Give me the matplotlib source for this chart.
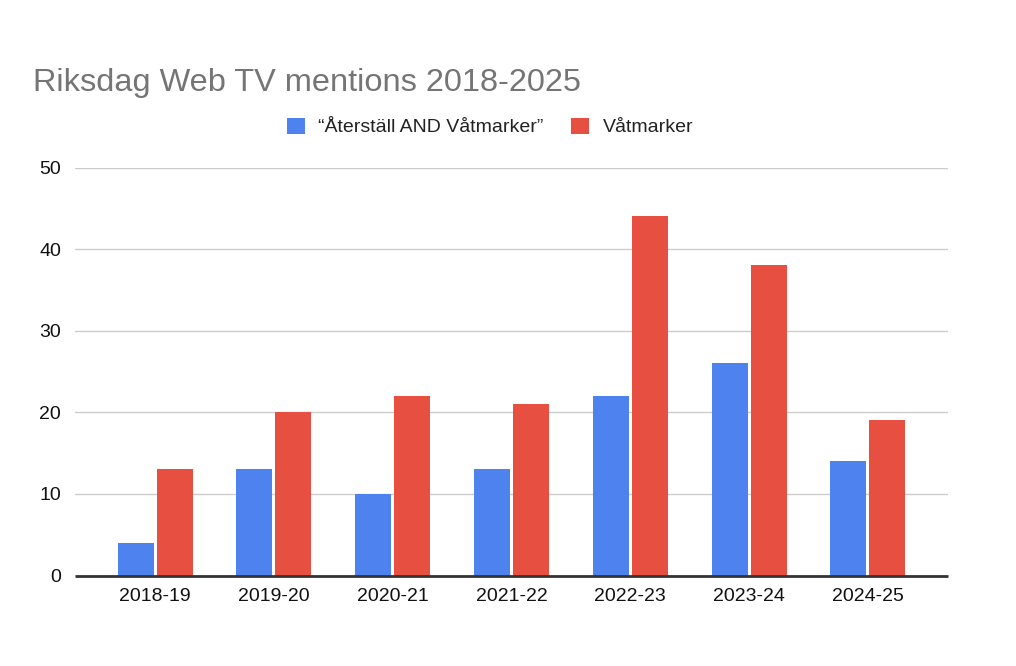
import matplotlib
matplotlib.use("Agg")
import matplotlib.pyplot as plt
import numpy as np

categories = ["2018-19", "2019-20", "2020-21", "2021-22", "2022-23", "2023-24", "2024-25"]
aterstall_vatmarker = [4, 13, 10, 13, 22, 26, 14]
vatmarker = [13, 20, 22, 21, 44, 38, 19]
series_names = ["\u201cÅterställ AND Våtmarker\u201d", "Våtmarker"]
yticks = [0, 10, 20, 30, 40, 50]

plt.rcParams['font.family'] = ['Liberation Sans', 'DejaVu Sans']

fig = plt.figure(figsize=(10.16, 6.66), dpi=100)
ax = fig.add_axes([75/1016, 1-575.5/666, (948-75)/1016, (575.5-167.5)/666])

x = np.arange(len(categories))
w = 0.303
off = 0.164
ax.bar(x - off, aterstall_vatmarker, w, color="#4E82EE", label=series_names[0], zorder=3)
ax.bar(x + off, vatmarker, w, color="#E74F40", label=series_names[1], zorder=3)

ax.set_xlim(-0.675, len(categories) - 1 + 0.675)
ax.set_ylim(0, 50)
ax.set_yticks(yticks)
ax.set_xticks(x)
ax.set_xticklabels(categories)
ax.tick_params(axis='both', length=0, labelsize=14, colors="#111111")
ax.tick_params(axis='y', pad=10)
ax.tick_params(axis='x', pad=9)
ax.yaxis.grid(True, color="#cccccc", linewidth=1, zorder=0)
for s in ["top", "right", "left"]:
    ax.spines[s].set_visible(False)
ax.spines["bottom"].set_color("#333333")
ax.spines["bottom"].set_linewidth(2)
ax.spines["bottom"].set_capstyle("butt")
ax.spines["bottom"].set_zorder(4)

fig.text(33/1016, 1-91/666, "Riksdag Web TV mentions 2018-2025", fontsize=23.4,
         color="#757575", ha="left", va="baseline")

fig.legend(loc="center", bbox_to_anchor=(490/1016, 1-127/666), ncol=2, frameon=False,
           fontsize=14, handlelength=0.93, handleheight=0.93, handletextpad=0.67,
           columnspacing=1.44, borderpad=0, labelcolor="#222222")

fig.savefig("out.png", dpi=100)
